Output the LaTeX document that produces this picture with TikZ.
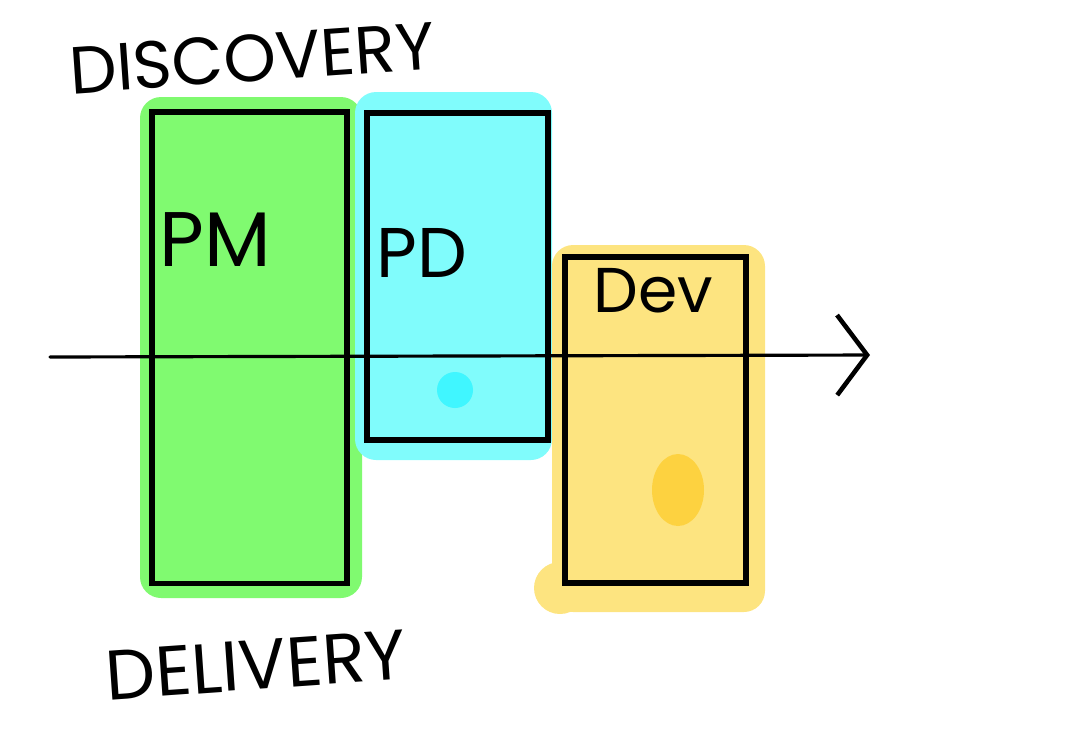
\documentclass[tikz,border=0pt]{standalone}
\usepackage{fontspec}
\setmainfont{Poppins}
\usepackage{xcolor}
\usetikzlibrary{arrows.meta,positioning,calc}

\definecolor{pmgreen}{RGB}{128,250,112}
\definecolor{pdcyan}{RGB}{128,252,252}
\definecolor{devyellow}{RGB}{253,228,128}
\definecolor{cyandot}{RGB}{64,246,255}
\definecolor{yellowdot}{RGB}{253,210,64}

\begin{document}
\begin{tikzpicture}[x=0.01cm, y=-0.01cm,
    box/.style={draw, line width=1.5pt, inner sep=0pt},
    blob/.style={rounded corners=6pt},
    role/.style={font=\fontsize{#1}{#1}\selectfont},
    title/.style={font=\fontsize{19}{19}\selectfont, rotate=4},
    axis/.style={line width=0.9pt, line cap=round, -{Straight Barb[length=0.3cm, width=0.8cm, line width=1.3pt]}}]
    \useasboundingbox (0,0) rectangle (1072,729);

    % Coloured blobs
    \fill[pmgreen, blob] (140,97) rectangle (362,598);
    \fill[pdcyan, blob] (355,92) rectangle (552,460);
    \fill[devyellow, blob] (552,245) rectangle (765,612);
    \fill[devyellow] (560,588) circle (26);
    \fill[cyandot] (455,390) circle (18);
    \fill[yellowdot] (678,490) ellipse (26 and 36);

    % Boxes
    \node[box, minimum width=1.95cm, minimum height=4.71cm] (pm) at (249.5,347.5) {};
    \node[box, minimum width=1.81cm, minimum height=3.27cm] (pd) at (457.5,276.5) {};
    \node[box, minimum width=1.81cm, minimum height=3.26cm] (dev) at (655.5,420) {};

    % Labels
    \node[role=22] (pmlabel) at (215,240) {PM};
    \node[role=20] (pdlabel) at (422,253) {PD};
    \node[role=18] (devlabel) at (653,291) {Dev};

    % Time axis
    \coordinate (t0) at (50,357);
    \coordinate (t1) at (870,355);
    \draw[axis] (t0) -- (t1);

    % Titles
    \node[title] (discovery) at (252,58) {DISCOVERY};
    \node[title, font=\fontsize{20}{20}\selectfont] (delivery) at (256,665) {DELIVERY};
\end{tikzpicture}
\end{document}
